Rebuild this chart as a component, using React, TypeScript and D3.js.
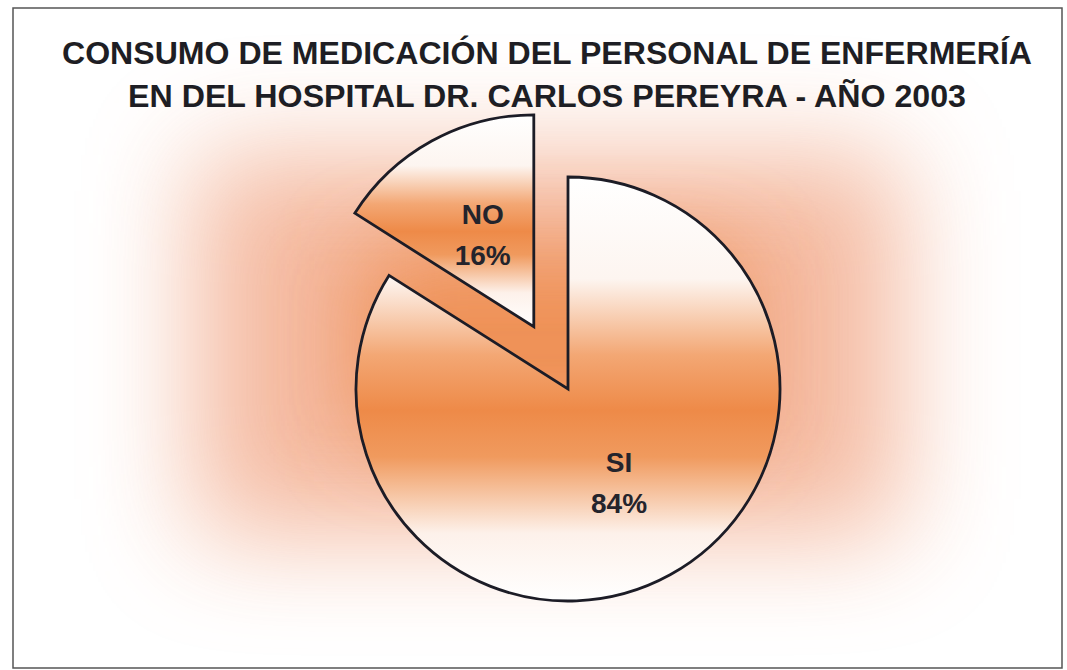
import React from "react";
import * as d3 from "d3";

const categories = ["SI", "NO"];
const values = [84, 16];
const labelTexts = ["84%", "16%"];
const titleLines = [
  "CONSUMO DE MEDICACIÓN DEL PERSONAL DE ENFERMERÍA",
  "EN DEL HOSPITAL DR. CARLOS PEREYRA - AÑO 2003",
];

const W = 1067;
const H = 670;
const CX = 568;
const CY = 389;
const R = 212;
const EXPLODE: Record<string, number> = { SI: 0, NO: 71 };
const ORANGE = "#ee8a48";

export default function App() {
  const pie = d3
    .pie<number>()
    .sort(null)
    .value((d) => d)
    .startAngle(0)
    .endAngle(2 * Math.PI);
  const arcs = pie(values);
  const arc = d3.arc<d3.PieArcDatum<number>>().innerRadius(0).outerRadius(R);

  return (
    <svg
      width={W}
      height={H}
      style={{ position: "absolute", left: 0, top: 0, background: "#fff" }}
      fontFamily="'Liberation Sans', Arial, sans-serif"
    >
      <defs>
        <filter id="blur" x="-50%" y="-50%" width="200%" height="200%">
          <feGaussianBlur stdDeviation="55" />
        </filter>
        <filter id="blur2" x="-50%" y="-50%" width="200%" height="200%">
          <feGaussianBlur stdDeviation="45" />
        </filter>
        <linearGradient id="sliceGrad" x1="0" y1="0" x2="0" y2="1">
          <stop offset="0" stopColor="#ffffff" />
          <stop offset="0.24" stopColor="#fdf5f0" />
          <stop offset="0.42" stopColor="#f3a774" />
          <stop offset="0.55" stopColor={ORANGE} />
          <stop offset="0.66" stopColor="#f09a5e" />
          <stop offset="0.84" stopColor="#fdf1ea" />
          <stop offset="1" stopColor="#ffffff" />
        </linearGradient>
      </defs>
      <rect x={0} y={0} width={W} height={H} fill="#fff" />
      <rect x={195} y={155} width={705} height={380} fill="#f09c78" opacity={0.7} filter="url(#blur)" />
      <rect x={360} y={250} width={380} height={190} fill={ORANGE} opacity={0.85} filter="url(#blur2)" />
      <rect x={13} y={8} width={1049} height={660} fill="none" stroke="#555" strokeWidth={1.5} />

      {titleLines.map((t, i) => (
        <text
          key={i}
          x={547}
          y={i === 0 ? 64 : 107}
          textAnchor="middle"
          fontSize={32}
          fontWeight="bold"
          fill="#1e1e24"
          textLength={i === 0 ? 970 : 838}
          lengthAdjust="spacingAndGlyphs"
        >
          {t}
        </text>
      ))}

      {arcs.map((a, i) => {
        const mid = (a.startAngle + a.endAngle) / 2;
        const off = EXPLODE[categories[i]];
        const dx = Math.sin(mid) * off;
        const dy = -Math.cos(mid) * off;
        const lx = Math.sin(mid) * R * 0.5;
        const ly = -Math.cos(mid) * R * 0.5;
        return (
          <g key={categories[i]} transform={`translate(${CX + dx},${CY + dy})`}>
            <path
              d={arc(a) || ""}
              fill="url(#sliceGrad)"
              stroke="#1c1c26"
              strokeWidth={2.8}
              strokeLinejoin="miter"
            />
            <text
              x={lx}
              y={ly - 10}
              textAnchor="middle"
              fontSize={28}
              fontWeight="bold"
              fill="#24242c"
            >
              {categories[i]}
            </text>
            <text
              x={lx}
              y={ly + 31}
              textAnchor="middle"
              fontSize={28}
              fontWeight="bold"
              fill="#24242c"
            >
              {labelTexts[i]}
            </text>
          </g>
        );
      })}
    </svg>
  );
}
